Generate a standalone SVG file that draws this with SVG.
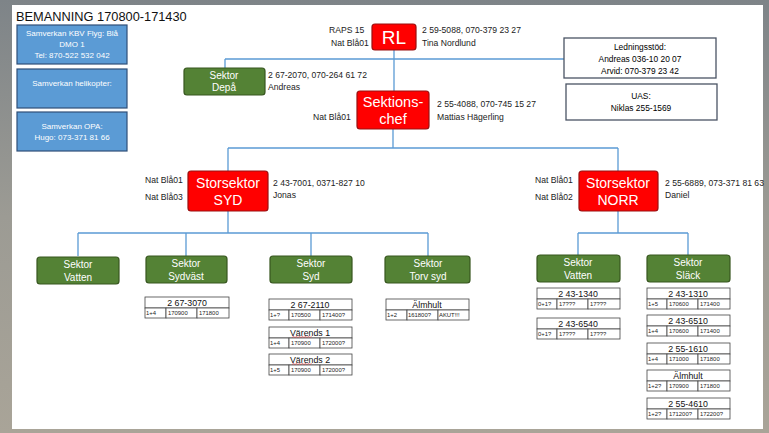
<svg xmlns="http://www.w3.org/2000/svg" width="769" height="433" viewBox="0 0 769 433">
<defs>
<linearGradient id="bg" x1="0" y1="0" x2="0" y2="1">
<stop offset="0" stop-color="#7e8488"/>
<stop offset="0.5" stop-color="#9c9b94"/>
<stop offset="1" stop-color="#a9a498"/>
</linearGradient>
</defs>
<style>
text{font-family:"Liberation Sans",Arial,sans-serif}
.lbl{font-size:8.6px;fill:#222}
.w{fill:#fff}
.blue{fill:#5b9bd5;stroke:#2f4f78;stroke-width:1.2}
.red{fill:#ff0000;stroke:#9a1010;stroke-width:1.2}
.green{fill:#548235;stroke:#37561f;stroke-width:1.2}
.box{fill:#fff;stroke:#4a5464;stroke-width:1.3}
.tb{fill:#fff;stroke:#444;stroke-width:0.8}
.th{font-size:8.8px;fill:#111;text-anchor:middle}
.td{font-size:5.9px;fill:#222}
.con{fill:none;stroke:#5b9bd5;stroke-width:1.3}
.c{text-anchor:middle}
.bt{font-size:8px}
.lt{font-size:8.4px}
</style>
<rect x="0" y="0" width="769" height="433" fill="url(#bg)"/>
<rect x="12" y="5" width="751" height="424" fill="#fff"/>
<text x="16" y="21" style="font-size:12.8px;fill:#111">BEMANNING 170800-171430</text>

<g id="connectors">
<path class="con" d="M394 50V91M225 59H564M225 59V68M393 129V148M228 148H618M228 148V171M228 211V233M618 148V171M618 211V233M78 233H428M78 233V256M186 233V256M311 233V256M428 233V256M578 233H688M578 233V256M688 233V256"/>
</g>

<g id="samverkan-kbv">
<rect class="blue" x="17" y="25" width="110" height="39"/>
<text class="w c bt" x="72" y="36">Samverkan KBV Flyg: Blå</text>
<text class="w c bt" x="72" y="47">DMO 1</text>
<text class="w c bt" x="72" y="58">Tel: 870-522 532 042</text>
</g>
<g id="samverkan-heli">
<rect class="blue" x="17" y="69" width="110" height="39"/>
<text class="w c bt" x="72" y="86">Samverkan helikopter:</text>
</g>
<g id="samverkan-opa">
<rect class="blue" x="17" y="112" width="110" height="39"/>
<text class="w c bt" x="72" y="129">Samverkan OPA:</text>
<text class="w c bt" x="72" y="140">Hugo: 073-371 81 66</text>
</g>

<g id="rl">
<rect class="red" x="372" y="24" width="44" height="26" rx="3"/>
<text class="w c" x="394" y="44" style="font-size:19px">RL</text>
<text class="lbl" x="329" y="33">RAPS 15</text>
<text class="lbl" x="331" y="46">Nat Blå01</text>
<text class="lbl" x="422" y="33">2 59-5088, 070-379 23 27</text>
<text class="lbl" x="422" y="46">Tina Nordlund</text>
</g>

<g id="sektor-depa">
<rect class="green" x="184" y="68" width="81" height="27" rx="3"/>
<text class="w c" x="224" y="79" style="font-size:10px">Sektor</text>
<text class="w c" x="224" y="91" style="font-size:10px">Depå</text>
<text class="lbl" x="268" y="78">2 67-2070, 070-264 61 72</text>
<text class="lbl" x="268" y="90">Andreas</text>
</g>

<g id="sektionschef">
<rect class="red" x="357" y="91" width="72" height="38" rx="3"/>
<text class="w c" x="393" y="107" style="font-size:14.5px">Sektions-</text>
<text class="w c" x="393" y="124" style="font-size:14.5px">chef</text>
<text class="lbl" x="313" y="120">Nat Blå01</text>
<text class="lbl" x="437" y="107">2 55-4088, 070-745 15 27</text>
<text class="lbl" x="437" y="120">Mattias Hägerling</text>
</g>

<g id="ledningsstod">
<rect class="box" x="564" y="38" width="152" height="40"/>
<text class="c lt" x="640" y="50">Ledningsstöd:</text>
<text class="c lt" x="640" y="62">Andreas 036-10 20 07</text>
<text class="c lt" x="640" y="74">Arvid: 070-379 23 42</text>
</g>
<g id="uas">
<rect class="box" x="566" y="84" width="151" height="36"/>
<text class="c lt" x="641" y="99">UAS:</text>
<text class="c lt" x="641" y="111">Niklas 255-1569</text>
</g>

<g id="storsektor-syd">
<rect class="red" x="188" y="171" width="80" height="40" rx="3"/>
<text class="w c" x="228" y="188" style="font-size:14px">Storsektor</text>
<text class="w c" x="228" y="205" style="font-size:14px">SYD</text>
<text class="lbl" x="145" y="183">Nat Blå01</text>
<text class="lbl" x="145" y="200">Nat Blå03</text>
<text class="lbl" x="273" y="186">2 43-7001, 0371-827 10</text>
<text class="lbl" x="273" y="198">Jonas</text>
</g>

<g id="storsektor-norr">
<rect class="red" x="579" y="171" width="79" height="40" rx="3"/>
<text class="w c" x="618" y="188" style="font-size:14px">Storsektor</text>
<text class="w c" x="618" y="205" style="font-size:14px">NORR</text>
<text class="lbl" x="535" y="183">Nat Blå01</text>
<text class="lbl" x="535" y="200">Nat Blå02</text>
<text class="lbl" x="665" y="186">2 55-6889, 073-371 81 63</text>
<text class="lbl" x="665" y="198">Daniel</text>
</g>

<g id="sektor-vatten-syd">
<rect class="green" x="37" y="257" width="82" height="27" rx="3"/>
<text class="w c" x="78" y="268" style="font-size:10px">Sektor</text>
<text class="w c" x="78" y="281" style="font-size:10px">Vatten</text>
</g>

<g id="sektor-sydvast">
<rect class="green" x="146" y="256" width="81" height="27" rx="3"/>
<text class="w c" x="186" y="267" style="font-size:10px">Sektor</text>
<text class="w c" x="186" y="280" style="font-size:10px">Sydväst</text>
<rect class="tb" x="145" y="297" width="84" height="11"/>
<rect class="tb" x="145" y="308" width="21" height="10"/>
<rect class="tb" x="166" y="308" width="31" height="10"/>
<rect class="tb" x="197" y="308" width="32" height="10"/>
<text class="th" x="187" y="306">2 67-3070</text>
<text class="td" x="146" y="315">1+4</text>
<text class="td" x="168" y="315">170900</text>
<text class="td" x="199" y="315">171800</text>
</g>

<g id="sektor-syd">
<rect class="green" x="270" y="256" width="82" height="27" rx="3"/>
<text class="w c" x="311" y="267" style="font-size:10px">Sektor</text>
<text class="w c" x="311" y="280" style="font-size:10px">Syd</text>
<rect class="tb" x="269" y="299" width="83" height="11"/>
<rect class="tb" x="269" y="310" width="20" height="10"/>
<rect class="tb" x="289" y="310" width="31" height="10"/>
<rect class="tb" x="320" y="310" width="32" height="10"/>
<text class="th" x="310" y="308">2 67-2110</text>
<text class="td" x="270" y="317">1+?</text>
<text class="td" x="291" y="317">170500</text>
<text class="td" x="322" y="317">171400?</text>
<rect class="tb" x="269" y="327" width="83" height="11"/>
<rect class="tb" x="269" y="338" width="20" height="10"/>
<rect class="tb" x="289" y="338" width="31" height="10"/>
<rect class="tb" x="320" y="338" width="32" height="10"/>
<text class="th" x="310" y="336">Värends 1</text>
<path d="M292 337.5l1.5-1 1.5 1 1.5-1 1.5 1 1.5-1 1.5 1 1.5-1 1.5 1 1.5-1 1.5 1 1.5-1 1.5 1 1.5-1" fill="none" stroke="#e03030" stroke-width="0.6"/>
<text class="td" x="270" y="345">1+4</text>
<text class="td" x="291" y="345">170900</text>
<text class="td" x="322" y="345">172000?</text>
<rect class="tb" x="269" y="354" width="83" height="11"/>
<rect class="tb" x="269" y="365" width="20" height="10"/>
<rect class="tb" x="289" y="365" width="31" height="10"/>
<rect class="tb" x="320" y="365" width="32" height="10"/>
<text class="th" x="310" y="363">Värends 2</text>
<path d="M292 364.5l1.5-1 1.5 1 1.5-1 1.5 1 1.5-1 1.5 1 1.5-1 1.5 1 1.5-1 1.5 1 1.5-1 1.5 1 1.5-1" fill="none" stroke="#e03030" stroke-width="0.6"/>
<text class="td" x="270" y="372">1+5</text>
<text class="td" x="291" y="372">170900</text>
<text class="td" x="322" y="372">172000?</text>
</g>

<g id="sektor-torv-syd">
<rect class="green" x="385" y="256" width="85" height="27" rx="3"/>
<text class="w c" x="428" y="267" style="font-size:10px">Sektor</text>
<text class="w c" x="428" y="280" style="font-size:10px">Torv syd</text>
<rect class="tb" x="386" y="299" width="83" height="11"/>
<rect class="tb" x="386" y="310" width="21" height="10"/>
<rect class="tb" x="407" y="310" width="31" height="10"/>
<rect class="tb" x="438" y="310" width="31" height="10"/>
<text class="th" x="427" y="308">Älmhult</text>
<text class="td" x="387" y="317">1+2</text>
<text class="td" x="408" y="317">161800?</text>
<text class="td" x="439" y="317">AKUT!!!</text>
</g>

<g id="sektor-vatten-norr">
<rect class="green" x="537" y="255" width="83" height="27" rx="3"/>
<text class="w c" x="578" y="266" style="font-size:10px">Sektor</text>
<text class="w c" x="578" y="279" style="font-size:10px">Vatten</text>
<rect class="tb" x="537" y="288" width="83" height="11"/>
<rect class="tb" x="537" y="299" width="20" height="10"/>
<rect class="tb" x="557" y="299" width="31" height="10"/>
<rect class="tb" x="588" y="299" width="32" height="10"/>
<text class="th" x="578" y="297">2 43-1340</text>
<text class="td" x="538" y="306">0+1?</text>
<text class="td" x="559" y="306">17???</text>
<text class="td" x="590" y="306">17???</text>
<rect class="tb" x="537" y="318" width="83" height="11"/>
<rect class="tb" x="537" y="329" width="20" height="10"/>
<rect class="tb" x="557" y="329" width="31" height="10"/>
<rect class="tb" x="588" y="329" width="32" height="10"/>
<text class="th" x="578" y="327">2 43-6540</text>
<text class="td" x="538" y="336">0+1?</text>
<text class="td" x="559" y="336">17???</text>
<text class="td" x="590" y="336">17???</text>
</g>

<g id="sektor-slack">
<rect class="green" x="647" y="255" width="83" height="27" rx="3"/>
<text class="w c" x="688" y="266" style="font-size:10px">Sektor</text>
<text class="w c" x="688" y="279" style="font-size:10px">Släck</text>
<rect class="tb" x="647" y="288" width="83" height="11"/>
<rect class="tb" x="647" y="299" width="20" height="10"/>
<rect class="tb" x="667" y="299" width="31" height="10"/>
<rect class="tb" x="698" y="299" width="32" height="10"/>
<text class="th" x="688" y="297">2 43-1310</text>
<text class="td" x="648" y="306">1+5</text>
<text class="td" x="669" y="306">170600</text>
<text class="td" x="700" y="306">171400</text>
<rect class="tb" x="647" y="315" width="83" height="11"/>
<rect class="tb" x="647" y="326" width="20" height="10"/>
<rect class="tb" x="667" y="326" width="31" height="10"/>
<rect class="tb" x="698" y="326" width="32" height="10"/>
<text class="th" x="688" y="324">2 43-6510</text>
<text class="td" x="648" y="333">1+4</text>
<text class="td" x="669" y="333">170600</text>
<text class="td" x="700" y="333">171400</text>
<rect class="tb" x="647" y="343" width="83" height="11"/>
<rect class="tb" x="647" y="354" width="20" height="10"/>
<rect class="tb" x="667" y="354" width="31" height="10"/>
<rect class="tb" x="698" y="354" width="32" height="10"/>
<text class="th" x="688" y="352">2 55-1610</text>
<text class="td" x="648" y="361">1+4</text>
<text class="td" x="669" y="361">171000</text>
<text class="td" x="700" y="361">171800</text>
<rect class="tb" x="647" y="370" width="83" height="11"/>
<rect class="tb" x="647" y="381" width="20" height="10"/>
<rect class="tb" x="667" y="381" width="31" height="10"/>
<rect class="tb" x="698" y="381" width="32" height="10"/>
<text class="th" x="688" y="379">Älmhult</text>
<text class="td" x="648" y="388">1+2?</text>
<text class="td" x="669" y="388">170900</text>
<text class="td" x="700" y="388">171800</text>
<rect class="tb" x="647" y="398" width="83" height="11"/>
<rect class="tb" x="647" y="409" width="20" height="10"/>
<rect class="tb" x="667" y="409" width="31" height="10"/>
<rect class="tb" x="698" y="409" width="32" height="10"/>
<text class="th" x="688" y="407">2 55-4610</text>
<text class="td" x="648" y="416">1+2?</text>
<text class="td" x="669" y="416">171200?</text>
<text class="td" x="700" y="416">172200?</text>
</g>
</svg>
